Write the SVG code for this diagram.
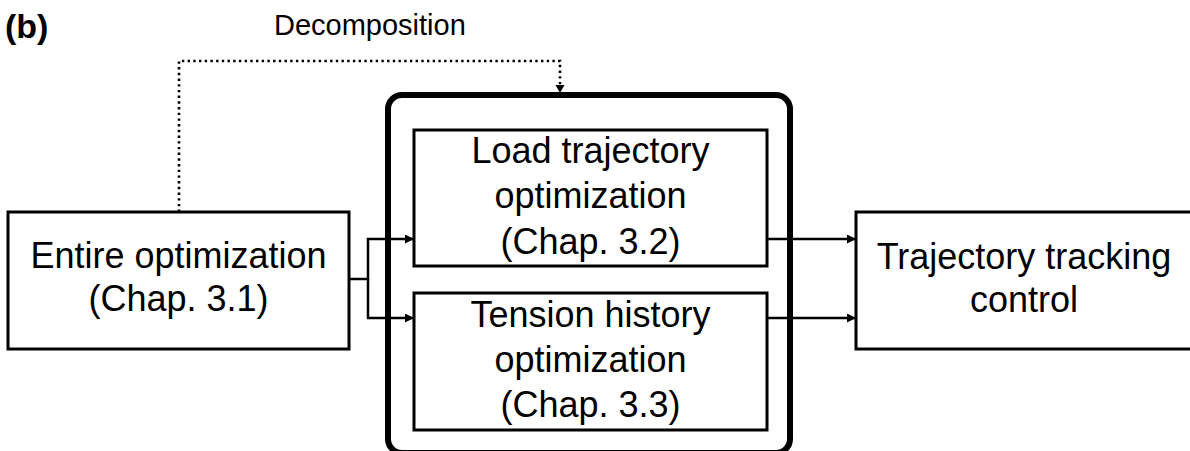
<svg xmlns="http://www.w3.org/2000/svg" width="1190" height="451" viewBox="0 0 1190 451">
  <style>
    .box { fill: #fff; stroke: #000; stroke-width: 3; }
    .group { fill: none; stroke: #000; stroke-width: 6; }
    .txt { font-family: "Liberation Sans", Arial, sans-serif; font-size: 36px; fill: #000; text-anchor: middle; }
    .lbl { font-family: "Liberation Sans", Arial, sans-serif; font-size: 29px; fill: #000; }
    .tag { font-family: "Liberation Sans", Arial, sans-serif; font-size: 34px; font-weight: bold; fill: #000; }
    .wire { fill: none; stroke: #000; stroke-width: 2.5; }
    .dots { fill: none; stroke: #000; stroke-width: 2.6; stroke-dasharray: 2.4 3.3; }
  </style>
  <defs>
    <marker id="arrow" viewBox="0 0 10 10" refX="10" refY="5" markerWidth="11" markerHeight="9" markerUnits="userSpaceOnUse" orient="auto">
      <path d="M0,0 L10,5 L0,10 Z" fill="#000"/>
    </marker>
  </defs>

  <rect width="1190" height="451" fill="#fff"/>

  <text class="tag" x="5" y="38">(b)</text>
  <text class="lbl" x="274" y="35">Decomposition</text>

  <!-- decomposed stage container, its lower edge sits just past the frame -->
  <g id="decomposed-stage">
    <rect class="group" x="388" y="95" width="402" height="358" rx="14" ry="14"/>
  </g>

  <g id="entire-optimization">
    <rect class="box" x="8" y="212" width="341" height="137"/>
    <text class="txt" x="178.5" y="268">Entire optimization</text>
    <text class="txt" x="178.5" y="311">(Chap. 3.1)</text>
  </g>

  <g id="load-trajectory">
    <rect class="box" x="414" y="130" width="353" height="136"/>
    <text class="txt" x="590.5" y="163">Load trajectory</text>
    <text class="txt" x="590.5" y="208">optimization</text>
    <text class="txt" x="590.5" y="254">(Chap. 3.2)</text>
  </g>

  <g id="tension-history">
    <rect class="box" x="414" y="293" width="353" height="137"/>
    <text class="txt" x="590.5" y="327">Tension history</text>
    <text class="txt" x="590.5" y="372">optimization</text>
    <text class="txt" x="590.5" y="417">(Chap. 3.3)</text>
  </g>

  <g id="tracking-control">
    <rect class="box" x="856" y="212" width="340" height="137"/>
    <text class="txt" x="1024" y="269">Trajectory tracking</text>
    <text class="txt" x="1024" y="312">control</text>
  </g>

  <g id="connectors">
    <path class="dots" d="M179,212 V61 H560 V85"/>
    <path d="M555.5,85 L564.5,85 L560,93 Z" fill="#000"/>
    <path class="wire" d="M349,279 H368 V239 H414" marker-end="url(#arrow)"/>
    <path class="wire" d="M368,279 V318 H414" marker-end="url(#arrow)"/>
    <path class="wire" d="M767,239 H856" marker-end="url(#arrow)"/>
    <path class="wire" d="M767,318 H856" marker-end="url(#arrow)"/>
  </g>
</svg>
